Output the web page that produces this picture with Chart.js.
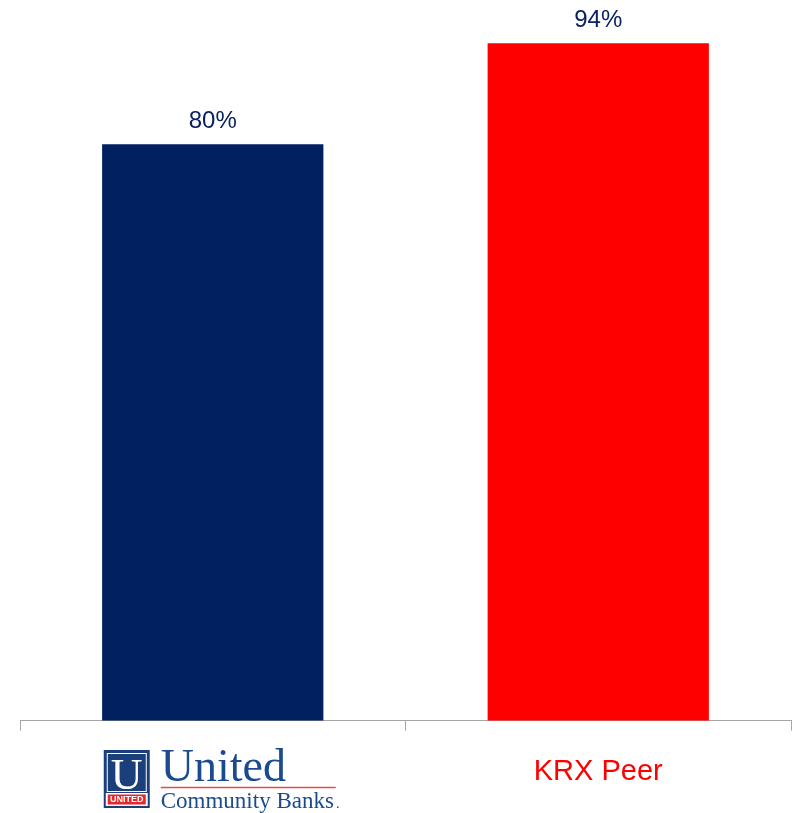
<!DOCTYPE html>
<html>
<head>
<meta charset="utf-8">
<script src="https://cdn.jsdelivr.net/npm/chart.js@4"></script>
<style>
  html, body { margin: 0; padding: 0; background: #ffffff; }
  #wrap { width: 792px; height: 813px; }
</style>
</head>
<body>
<div id="wrap"><canvas id="peerChart" width="792" height="813"></canvas></div>
<script>
// Chart data
const categories = ['United Community Banks', 'KRX Peer'];
const values = [80, 94];
const barColors = ['#002060', '#ff0000'];
const valueLabels = ['80%', '94%'];

// Value labels above each bar
const valueLabelPlugin = {
    id: 'valueLabels',
    afterDatasetsDraw(chart) {
        const ctx = chart.ctx;
        const meta = chart.getDatasetMeta(0);
        ctx.save();
        ctx.font = '24px "Liberation Sans", Arial, sans-serif';
        ctx.fillStyle = '#0b2262';
        ctx.textAlign = 'center';
        ctx.textBaseline = 'alphabetic';
        meta.data.forEach((bar, i) => {
            ctx.fillText(valueLabels[i], bar.x, bar.y - 16);
        });
        ctx.restore();
    }
};

// Company logo in place of the first category label
const logoPlugin = {
    id: 'bankLogo',
    afterDraw(chart) {
        const ctx = chart.ctx;
        const cx = chart.scales.x.getPixelForValue(0);
        const x0 = cx - 109;   // left edge of the logo
        ctx.save();

        // navy square with framed U
        ctx.fillStyle = '#1a3f7a';
        ctx.fillRect(x0, 750, 46, 58);
        ctx.strokeStyle = '#ffffff';
        ctx.lineWidth = 1;
        ctx.strokeRect(x0 + 3.5, 753.5, 39, 38);
        ctx.fillStyle = '#ffffff';
        ctx.font = '44px "Liberation Serif", "Times New Roman", serif';
        ctx.textAlign = 'center';
        ctx.textBaseline = 'alphabetic';
        ctx.fillText('U', x0 + 23, 789);

        // red UNITED tag
        ctx.fillStyle = '#ffffff';
        ctx.fillRect(x0 + 2, 793, 42, 13);
        ctx.fillStyle = '#e8262b';
        ctx.fillRect(x0 + 4, 794.5, 38, 10);
        ctx.fillStyle = '#ffffff';
        ctx.font = 'bold 9px "Liberation Sans", Arial, sans-serif';
        ctx.textBaseline = 'middle';
        ctx.fillText('UNITED', x0 + 23, 800);

        // wordmark
        ctx.fillStyle = '#1b4a8f';
        ctx.textAlign = 'left';
        ctx.textBaseline = 'alphabetic';
        ctx.font = '46px "Liberation Serif", "Times New Roman", serif';
        ctx.fillText('United', x0 + 57, 781);

        ctx.strokeStyle = '#e84a4a';
        ctx.lineWidth = 1.5;
        ctx.beginPath();
        ctx.moveTo(x0 + 57, 787.5);
        ctx.lineTo(x0 + 232, 787.5);
        ctx.stroke();

        ctx.font = '23px "Liberation Serif", "Times New Roman", serif';
        ctx.fillText('Community Banks', x0 + 57, 808);
        const w = ctx.measureText('Community Banks').width;
        ctx.font = '14px "Liberation Serif", "Times New Roman", serif';
        ctx.fillText('.', x0 + 59 + w, 808);
        ctx.restore();
    }
};

const ctx = document.getElementById('peerChart').getContext('2d');
const peerChart = new Chart(ctx, {
    type: 'bar',
    data: {
        labels: categories,
        datasets: [{
            data: values,
            backgroundColor: barColors,
            borderWidth: 0,
            barPercentage: 0.574,
            categoryPercentage: 1
        }]
    },
    options: {
        responsive: false,
        animation: false,
        layout: {
            padding: { left: 20, right: 1, top: 0, bottom: 0 }
        },
        plugins: {
            legend: { display: false },
            tooltip: { enabled: false }
        },
        scales: {
            y: {
                display: false,
                min: 0,
                max: 100
            },
            x: {
                offset: true,
                border: { display: true, color: '#a6a6a6', width: 1 },
                grid: {
                    offset: true,
                    drawOnChartArea: false,
                    drawTicks: true,
                    tickLength: 10,
                    color: '#a6a6a6'
                },
                ticks: {
                    padding: 31,
                    font: { size: 29, lineHeight: 0.7, family: '"Liberation Sans", Arial, sans-serif' },
                    color: function(c) {
                        return c.index === 1 ? '#ff0000' : 'rgba(0,0,0,0)';
                    }
                }
            }
        }
    },
    plugins: [valueLabelPlugin, logoPlugin]
});
</script>
</body>
</html>
